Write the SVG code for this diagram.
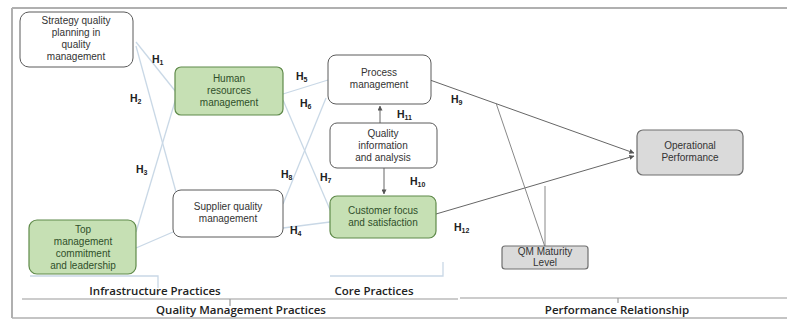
<svg xmlns="http://www.w3.org/2000/svg" width="787" height="320" viewBox="0 0 787 320">
  <defs>
    <style>
      .node-white { fill: #ffffff; stroke: #5a5a5a; stroke-width: 1; }
      .node-green { fill: #c6e0b4; stroke: #5f8a4a; stroke-width: 1.2; }
      .node-grey { fill: #dadada; stroke: #6f6f6f; stroke-width: 1.2; }
      .lbl { font-family: "Liberation Sans", Arial, sans-serif; font-size: 10px; fill: #333333; text-anchor: middle; }
      .lbl-green { fill: #2f4f2a; }
      .h { font-family: "Liberation Sans", Arial, sans-serif; font-size: 10.5px; font-weight: bold; fill: #222222; }
      .sub { font-size: 7px; }
      .faint { stroke: #c9d8e6; stroke-width: 1.3; fill: none; }
      .dark { stroke: #666666; stroke-width: 1; fill: none; }
      .rule { stroke: #9a9a9a; stroke-width: 1.2; fill: none; }
      .section { font-family: "Open Sans", "Liberation Sans", sans-serif; font-size: 11.5px; fill: #222222; text-anchor: middle; font-weight: 600; }
    </style>
    <marker id="arrow" viewBox="0 0 6 6" refX="5.5" refY="3" markerWidth="5" markerHeight="5" orient="auto">
      <path d="M0,0 L6,3 L0,6 z" fill="#555555"/>
    </marker>
  </defs>

  <rect width="787" height="320" fill="#ffffff"/>

  <!-- outer frame -->
  <g id="frame">
    <line x1="12" y1="8" x2="787" y2="8" stroke="#b0b0b0" stroke-width="2"/>
    <line x1="12" y1="8" x2="12" y2="318" stroke="#b0b0b0" stroke-width="2"/>
    <line x1="12" y1="318" x2="787" y2="318" stroke="#b0b0b0" stroke-width="1.5"/>
  </g>

  <!-- connectors -->
  <g id="connectors">
    <!-- infrastructure links (faint) -->
    <path class="faint" d="M136,42 L176,92"/>
    <path class="faint" d="M136,46 L176,192"/>
    <path class="faint" d="M136,232 L176,98"/>
    <path class="faint" d="M136,248 L173,232"/>
    <!-- infrastructure to core (faint) -->
    <path class="faint" d="M283,94 L328,80"/>
    <path class="faint" d="M283,100 L331,212"/>
    <path class="faint" d="M283,204 L326,98"/>
    <path class="faint" d="M283,228 L330,222"/>
    <!-- core internal -->
    <line class="dark" x1="380" y1="123" x2="380" y2="106" marker-end="url(#arrow)"/>
    <line class="dark" x1="384" y1="168" x2="384" y2="194" marker-end="url(#arrow)"/>
    <!-- core to performance -->
    <line class="dark" x1="430" y1="80" x2="634" y2="153" marker-end="url(#arrow)"/>
    <line class="dark" x1="436" y1="214" x2="634" y2="156" marker-end="url(#arrow)"/>
    <!-- moderator -->
    <line x1="545" y1="247" x2="545" y2="186" stroke="#888888" stroke-width="1"/>
    <line x1="545" y1="247" x2="496" y2="103" stroke="#888888" stroke-width="1"/>
    <!-- section brackets (faint) -->
    <path class="faint" d="M30,276 L158,276 L158,288"/>
    <path class="faint" d="M330,276 L443,276 L443,262"/>
    <!-- section rules -->
    <line class="rule" x1="22" y1="299" x2="458" y2="299"/>
    <line class="rule" x1="460" y1="298" x2="787" y2="298"/>
    <line class="rule" x1="230" y1="299" x2="230" y2="306"/>
    <line class="rule" x1="618" y1="298" x2="618" y2="303"/>
  </g>

  <!-- nodes -->
  <g id="strategy">
    <rect class="node-white" x="20" y="12" width="113" height="55" rx="9"/>
    <text class="lbl" x="76" y="24">Strategy quality</text>
    <text class="lbl" x="76" y="36">planning in</text>
    <text class="lbl" x="76" y="48">quality</text>
    <text class="lbl" x="76" y="60">management</text>
  </g>

  <g id="hrm">
    <rect class="node-green" x="175" y="67" width="108" height="48" rx="6"/>
    <text class="lbl lbl-green" x="229" y="82">Human</text>
    <text class="lbl lbl-green" x="229" y="94">resources</text>
    <text class="lbl lbl-green" x="229" y="106">management</text>
  </g>

  <g id="supplier">
    <rect class="node-white" x="173" y="190" width="110" height="47" rx="8"/>
    <text class="lbl" x="228" y="210">Supplier quality</text>
    <text class="lbl" x="228" y="222">management</text>
  </g>

  <g id="top-management">
    <rect class="node-green" x="29" y="220" width="107" height="54" rx="8"/>
    <text class="lbl lbl-green" x="83" y="233">Top</text>
    <text class="lbl lbl-green" x="83" y="245">management</text>
    <text class="lbl lbl-green" x="83" y="257">commitment</text>
    <text class="lbl lbl-green" x="83" y="269">and leadership</text>
  </g>

  <g id="process">
    <rect class="node-white" x="328" y="55" width="103" height="49" rx="8"/>
    <text class="lbl" x="379" y="76">Process</text>
    <text class="lbl" x="379" y="88">management</text>
  </g>

  <g id="qia">
    <rect class="node-white" x="330" y="123" width="107" height="45" rx="7"/>
    <text class="lbl" x="383" y="137">Quality</text>
    <text class="lbl" x="383" y="149">information</text>
    <text class="lbl" x="383" y="161">and analysis</text>
  </g>

  <g id="customer">
    <rect class="node-green" x="330" y="196" width="106" height="42" rx="7"/>
    <text class="lbl lbl-green" x="383" y="214">Customer focus</text>
    <text class="lbl lbl-green" x="383" y="226">and satisfaction</text>
  </g>

  <g id="operational">
    <rect class="node-grey" x="637" y="130" width="106" height="45" rx="6"/>
    <text class="lbl" x="690" y="149">Operational</text>
    <text class="lbl" x="690" y="161">Performance</text>
  </g>

  <g id="maturity">
    <rect class="node-grey" x="502" y="246" width="86" height="23" rx="3"/>
    <text class="lbl" x="545" y="255" font-size="7.5">QM Maturity</text>
    <text class="lbl" x="545" y="265.5" font-size="7.5">Level</text>
  </g>

  <!-- hypothesis labels -->
  <g id="hypotheses">
    <text class="h" x="152" y="63">H<tspan class="sub" dy="2">1</tspan></text>
    <text class="h" x="130" y="102">H<tspan class="sub" dy="2">2</tspan></text>
    <text class="h" x="136" y="173">H<tspan class="sub" dy="2">3</tspan></text>
    <text class="h" x="290" y="234">H<tspan class="sub" dy="2">4</tspan></text>
    <text class="h" x="296" y="80">H<tspan class="sub" dy="2">5</tspan></text>
    <text class="h" x="300" y="107">H<tspan class="sub" dy="2">6</tspan></text>
    <text class="h" x="320" y="181">H<tspan class="sub" dy="2">7</tspan></text>
    <text class="h" x="281" y="178">H<tspan class="sub" dy="2">8</tspan></text>
    <text class="h" x="451" y="103">H<tspan class="sub" dy="2">9</tspan></text>
    <text class="h" x="410" y="185">H<tspan class="sub" dy="2">10</tspan></text>
    <text class="h" x="397" y="118">H<tspan class="sub" dy="2">11</tspan></text>
    <text class="h" x="454" y="231">H<tspan class="sub" dy="2">12</tspan></text>
  </g>

  <!-- section titles -->
  <g id="sections">
    <text class="section" x="155" y="295">Infrastructure Practices</text>
    <text class="section" x="374" y="295">Core Practices</text>
    <text class="section" x="241" y="314">Quality Management Practices</text>
    <text class="section" x="617" y="314">Performance Relationship</text>
  </g>
</svg>
